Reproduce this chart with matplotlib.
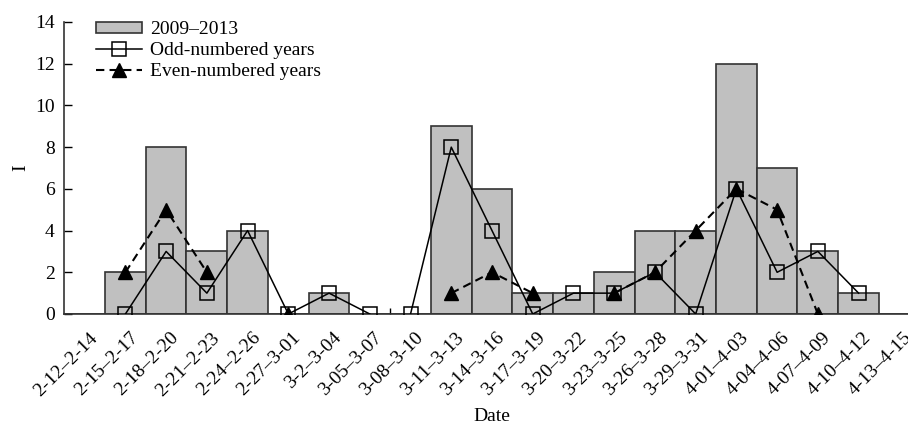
import numpy as np
import matplotlib
matplotlib.use("Agg")
import matplotlib.pyplot as plt
import matplotlib.transforms as mtransforms

plt.rcParams['font.family'] = ['Liberation Serif', 'DejaVu Serif']
plt.rcParams['font.size'] = 14

nan = np.nan
dates = ["2-12–2-14", "2-15–2-17", "2-18–2-20", "2-21–2-23", "2-24–2-26",
         "2-27–3-01", "3-2–3-04", "3-05–3-07", "3-08–3-10", "3-11–3-13",
         "3-14–3-16", "3-17–3-19", "3-20–3-22", "3-23–3-25", "3-26–3-28",
         "3-29–3-31", "4-01–4-03", "4-04–4-06", "4-07–4-09", "4-10–4-12",
         "4-13–4-15"]
total_2009_2013 = [0, 2, 8, 3, 4, 0, 1, 0, 0, 9, 6, 1, 1, 2, 4, 4, 12, 7, 3, 1, 0]
odd_years = [nan, 0, 3, 1, 4, 0, 1, 0, 0, 8, 4, 0, 1, 1, 2, 0, 6, 2, 3, 1, nan]
even_years = [nan, 2, 5, 2, nan, 0, nan, nan, nan, 1, 2, 1, nan, 1, 2, 4, 6, 5, 0, nan, nan]
yticks = [0, 2, 4, 6, 8, 10, 12, 14]
break_after = 7  # odd-year line is interrupted between 3-05–3-07 and 3-08–3-10

W, H = 908, 425
fig = plt.figure(figsize=(W / 100, H / 100), dpi=100)
ax = fig.add_axes([64.3 / W, 1 - 314 / H, 855.4 / W, 292 / H])

x = np.arange(len(dates))
h_bar = ax.bar(x, total_2009_2013, width=1.0, color='#c0c0c0', edgecolor='#333333',
               linewidth=1.2, label='2009–2013', zorder=1)

odd = np.array(odd_years, dtype=float)
sq = dict(color='black', lw=1.1, marker='s', markersize=9.5, markerfacecolor='none',
          markeredgecolor='black', markeredgewidth=1.1, zorder=3)
h_odd, = ax.plot(x[:break_after + 1], odd[:break_after + 1], label='Odd-numbered years', **sq)
ax.plot(x[break_after + 1:], odd[break_after + 1:], **sq)
h_even, = ax.plot(x, even_years, color='black', lw=1.5, dashes=(4, 2.5),
                  marker='^', markersize=9.5, markerfacecolor='black', markeredgecolor='black',
                  zorder=4, label='Even-numbered years')

ax.set_xlim(-0.5, len(dates) - 0.5)
ax.set_ylim(0, 14)
ax.set_yticks(yticks)
ax.tick_params(axis='y', direction='in', length=5.5, width=1, pad=7, labelsize=14)

ax.set_xticks(x)
ax.set_xticklabels(dates, rotation=45, ha='right', va='top', fontsize=14)
ax.tick_params(axis='x', which='major', length=0, pad=11)
ax.set_xticks([break_after + 0.5], minor=True)
ax.tick_params(axis='x', which='minor', direction='in', length=4, width=1)
offset = mtransforms.ScaledTranslation(16 / 100, 0, fig.dpi_scale_trans)
for lab in ax.get_xticklabels():
    lab.set_transform(lab.get_transform() + offset)

for s in ['top', 'right']:
    ax.spines[s].set_visible(False)
for s in ['left', 'bottom']:
    ax.spines[s].set_linewidth(1.2)
    ax.spines[s].set_color('#333333')

ax.set_xlabel('Date', fontsize=14, labelpad=6)
ax.set_ylabel('I', fontsize=14, labelpad=4)

leg = ax.legend(handles=[h_bar, h_odd, h_even], loc='upper left',
                bbox_to_anchor=(96 / W, 1 - 21 / H),
                bbox_transform=fig.transFigure, frameon=False, fontsize=14,
                borderpad=0, borderaxespad=0, handlelength=2.37, handleheight=0.5,
                handletextpad=0.4, labelspacing=0.2)

fig.savefig('out.png', dpi=100)
